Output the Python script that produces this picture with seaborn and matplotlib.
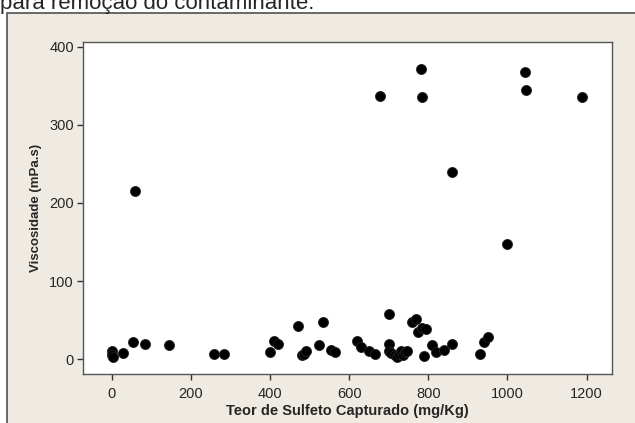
import pandas as pd
import matplotlib
matplotlib.use("Agg")
import matplotlib.pyplot as plt
import seaborn as sns
from matplotlib.patches import Rectangle

# Data
teor = [0, 2, 5, 30, 55, 85, 145, 60, 260, 285,
        400, 410, 420, 470, 480, 485, 490, 525, 535, 555, 565,
        620, 630, 650, 665, 677, 700, 700, 700, 705,
        715, 720, 725, 730, 735, 740, 745,
        760, 770, 775, 785, 795, 782, 785, 790,
        810, 820, 840, 860, 860, 930, 940, 950,
        1000, 1044, 1047, 1187]
viscosidade = [10, 5, 3, 8, 22, 19, 18, 215, 6, 6,
               9, 23, 20, 43, 5, 7, 10, 18, 47, 12, 9,
               23, 15, 10, 7, 337, 58, 20, 10, 8,
               5, 3, 7, 10, 5, 9, 10,
               48, 52, 35, 40, 38, 372, 335, 4,
               18, 9, 12, 19, 240, 6, 22, 28,
               148, 368, 345, 335]

df = pd.DataFrame({'teor': teor, 'visc': viscosidade})

sns.set_style("white")
plt.rcParams['font.family'] = ['Liberation Sans', 'DejaVu Sans']

fig = plt.figure(figsize=(6.35, 4.23), dpi=100)

# beige panel with border, text above it cut by the top edge
fig.patches.append(Rectangle((7 / 635, -0.1), 1.1, 0.969 + 0.1, transform=fig.transFigure,
                             facecolor='#efebe2', edgecolor='#505050', linewidth=1.2, zorder=-5))
fig.text(0.0, 0.979, 'para remoção do contaminante.', fontsize=16, va='baseline', ha='left')

ax = fig.add_axes([0.1307, 0.1158, 0.8331, 0.7849])
ax.set_zorder(2)
ax.set_facecolor('white')
sns.scatterplot(x='teor', y='visc', data=df, ax=ax, color='black', s=52,
                edgecolor='#222222', linewidth=0.6)

ax.set_xlim(-72, 1264)
ax.set_ylim(-19, 406)
ax.set_xticks(range(0, 1201, 200))
ax.set_yticks(range(0, 401, 100))

for sp in ax.spines.values():
    sp.set_color('#555555')
    sp.set_linewidth(1.0)

ax.tick_params(axis='both', direction='out', length=4.5, width=1, color='#333333',
               labelsize=10.5, bottom=True, left=True)
ax.tick_params(axis='x', pad=5)
ax.tick_params(axis='y', pad=2)

ax.set_xlabel('Teor de Sulfeto Capturado (mg/Kg)', fontsize=10.5, fontweight='bold', labelpad=2)
ax.set_ylabel('Viscosidade (mPa.s)', fontsize=9.5, fontweight='bold', labelpad=5)

fig.savefig('out.png', dpi=100)
